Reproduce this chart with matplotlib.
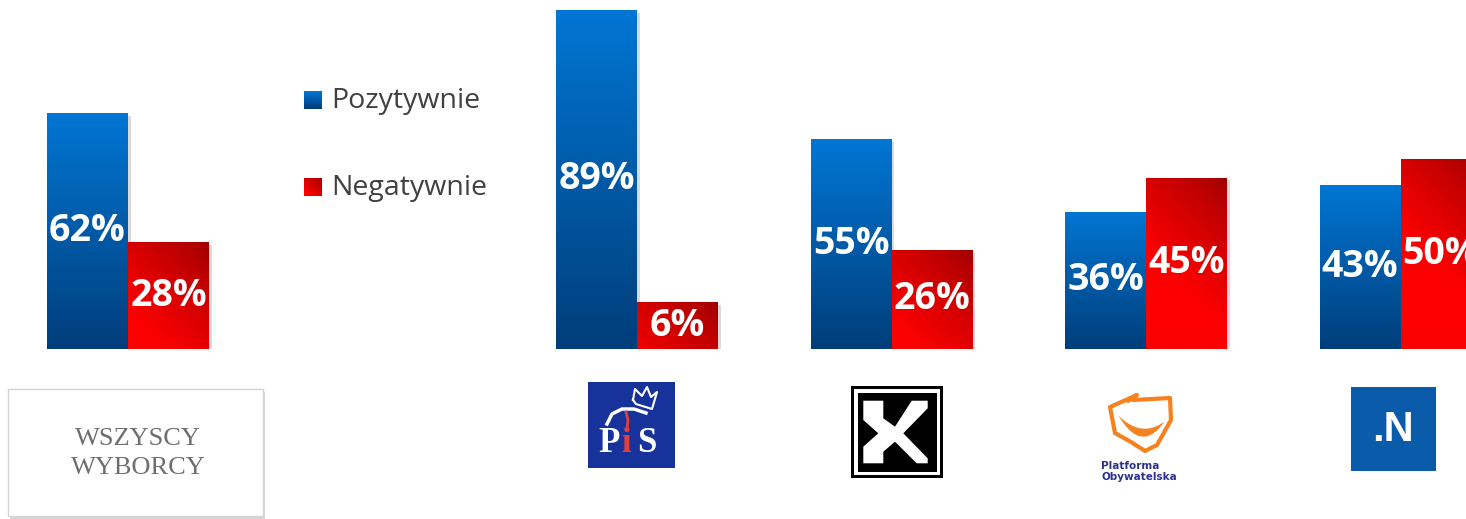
import numpy as np
import matplotlib
matplotlib.use("Agg")
import matplotlib.pyplot as plt
import matplotlib.patheffects as pe
from matplotlib.patches import Rectangle, Polygon

# data
groups = ["WSZYSCY WYBORCY", "PiS", "Kukiz'15", "PO", "Nowoczesna"]
slots = [0, 2, 3, 4, 5]          # slot 1 is left empty for the legend
pozytywnie = [62, 89, 55, 36, 43]
negatywnie = [28, 6, 26, 45, 50]
# the source slide draws the 6% bar about twice as tall as its value
negatywnie_drawn = [28, 12.3, 26, 45, 50]
series_names = ["Pozytywnie", "Negatywnie"]

W, H = 1466, 519
BLUE_TOP = np.array([0, 118, 212]) / 255
BLUE_BOT = np.array([0, 62, 122]) / 255
RED_BRIGHT = np.array([252, 0, 0]) / 255
RED_DARK = np.array([158, 0, 0]) / 255


def gradient_img(kind, nx, ny, spread=150.0):
    # row 0 = bottom of the bar
    nx, ny = max(int(nx), 2), max(int(ny), 2)
    if kind == "blue":
        t = np.linspace(0, 1, ny)[:, None, None]
        img = BLUE_BOT * (1 - t) + BLUE_TOP * t
        return np.broadcast_to(img, (ny, nx, 3)).copy()
    xx = np.arange(nx)[None, :]
    yy = np.arange(ny)[:, None]
    d = (nx - 1 - xx) + (ny - 1 - yy)
    t = np.clip(d / spread, 0, 1) ** 0.8
    t = t[:, :, None]
    return RED_DARK * (1 - t) + RED_BRIGHT * t


fig = plt.figure(figsize=(W / 100, H / 100), dpi=100)
ax = fig.add_axes([0, 170 / H, 1, 349 / H])
px_per_slot = 254.5
xlim = (-128 / px_per_slot, (W - 128) / px_per_slot)
ylim = (0, 349 / 3.81)
ax.set_xlim(*xlim)
ax.set_ylim(*ylim)
ax.axis("off")

bw = 81 / px_per_slot
x = np.array(slots, dtype=float)
shadow = [pe.SimplePatchShadow(offset=(2, -2), shadow_rgbFace="#999999", alpha=0.35), pe.Normal()]
bars_p = ax.bar(x - bw / 2, pozytywnie, bw, color="#0058A8", zorder=2, path_effects=shadow)
bars_n = ax.bar(x + bw / 2, negatywnie_drawn, bw, color="#E00000", zorder=2, path_effects=shadow)

for bars, kind in [(bars_p, "blue"), (bars_n, "red")]:
    for b in bars:
        x0, y0 = b.get_xy()
        w, h = b.get_width(), b.get_height()
        (p0x, p0y), (p1x, p1y) = ax.transData.transform([(x0, y0), (x0 + w, y0 + h)])
        img = gradient_img(kind, p1x - p0x, p1y - p0y)
        im = ax.imshow(img, extent=(x0, x0 + w, y0, y0 + h), origin="lower",
                       aspect="auto", zorder=3, interpolation="bilinear")
        im.set_clip_path(b)

for bars, vals in [(bars_p, pozytywnie), (bars_n, negatywnie)]:
    for b, v in zip(bars, vals):
        ax.text(b.get_x() + b.get_width() / 2, b.get_height() / 2, f"{v}%",
                ha="center", va="center", color="white", fontsize=27,
                fontweight="bold", family="Open Sans", zorder=5, clip_on=True)

ax.set_xlim(*xlim)
ax.set_ylim(*ylim)

# overlay in pixel coordinates for legend and party logos
ov = fig.add_axes([0, 0, 1, 1], zorder=4)
ov.set_xlim(0, W)
ov.set_ylim(H, 0)
ov.axis("off")
ov.patch.set_alpha(0)

# legend
for kind, name, yc in [("blue", series_names[0], 100), ("red", series_names[1], 187)]:
    ov.imshow(gradient_img(kind, 18, 18, spread=30), extent=(304, 322, yc + 9, yc - 9),
              origin="lower", aspect="auto", zorder=2)
    ov.text(331, yc + 1, name, va="center", ha="left", fontsize=20.5,
            family="Open Sans", color="#404040")

# WSZYSCY WYBORCY box
ov.add_patch(Rectangle((10, 392), 255, 127, fc="#bbbbbb", ec="none", alpha=0.6))
ov.add_patch(Rectangle((8, 389), 255, 127, fc="white", ec="#d4d4d4", lw=1))
ov.text(138, 439, "WSZYSCY", ha="center", va="center", fontsize=19,
        family="Liberation Serif", color="#6e6e6e")
ov.text(138, 468, "WYBORCY", ha="center", va="center", fontsize=19,
        family="Liberation Serif", color="#6e6e6e")

# PiS logo
ov.add_patch(Rectangle((588, 382), 87, 86, fc="#17339B", ec="none"))
for ch, xc, col in [("P", 609, "white"), ("i", 626, "#E0403A"), ("S", 647, "white")]:
    ov.text(xc, 444, ch, ha="center", va="center", fontsize=25,
            family="Liberation Serif", fontweight="bold", color=col)
ov.plot([633, 635, 642, 647, 651, 657, 652, 636, 633],
        [400, 389, 396, 387, 397, 392, 409, 404, 400], color="white", lw=1.5)
ov.plot([607, 612, 622, 634, 646], [424, 414, 409, 409, 413], color="white", lw=2.5)
ov.plot([626, 628, 627], [412, 420, 430], color="#E0403A", lw=2)

# Kukiz'15 logo
ov.add_patch(Rectangle((851, 386), 92, 92, fc="black", ec="none"))
ov.add_patch(Rectangle((854, 389), 86, 86, fc="white", ec="none"))
ov.add_patch(Rectangle((858, 393), 79, 79, fc="black", ec="none"))
xpts = [(863.3, 400.7), (883.3, 400.7), (883.3, 418.3), (895, 426.7), (911.7, 400.7),
        (927.7, 400.7), (927.7, 408.3), (903.3, 433.3), (927.7, 458.3), (927.7, 463.3),
        (916.7, 463.3), (895, 441.7), (883.3, 451.7), (883.3, 463.3), (863.3, 463.3),
        (863.3, 446.7), (878.3, 433.3), (863.3, 420)]
ov.add_patch(Polygon(xpts, closed=True, fc="white", ec="none"))

# PO logo
orange = "#F5821F"
ov.plot([1133, 1170, 1171, 1157, 1145, 1131, 1115, 1110, 1137, 1128],
        [400, 398, 420, 445, 451, 442, 433, 407, 395, 401], color=orange, lw=3,
        solid_joinstyle="round", solid_capstyle="round")
tt = np.linspace(0, 1, 40)
ov.fill_between(1118 + 46 * tt, 415 + 6 * tt + 72 * tt * (1 - tt),
                415 + 6 * tt + 40 * tt * (1 - tt), color=orange, lw=0)
ov.text(1101, 466, "Platforma", ha="left", va="center", fontsize=7.5,
        fontweight="bold", color="#2E3192")
ov.text(1101, 477, "Obywatelska", ha="left", va="center", fontsize=7.5,
        fontweight="bold", color="#2E3192")

# Nowoczesna logo
ov.add_patch(Rectangle((1351, 387), 85, 84, fc="#0A5BAA", ec="none"))
ov.text(1393, 430, ".N", ha="center", va="center", fontsize=30,
        family="Liberation Sans", fontweight="bold", color="white")

fig.savefig("out.png", dpi=100)
